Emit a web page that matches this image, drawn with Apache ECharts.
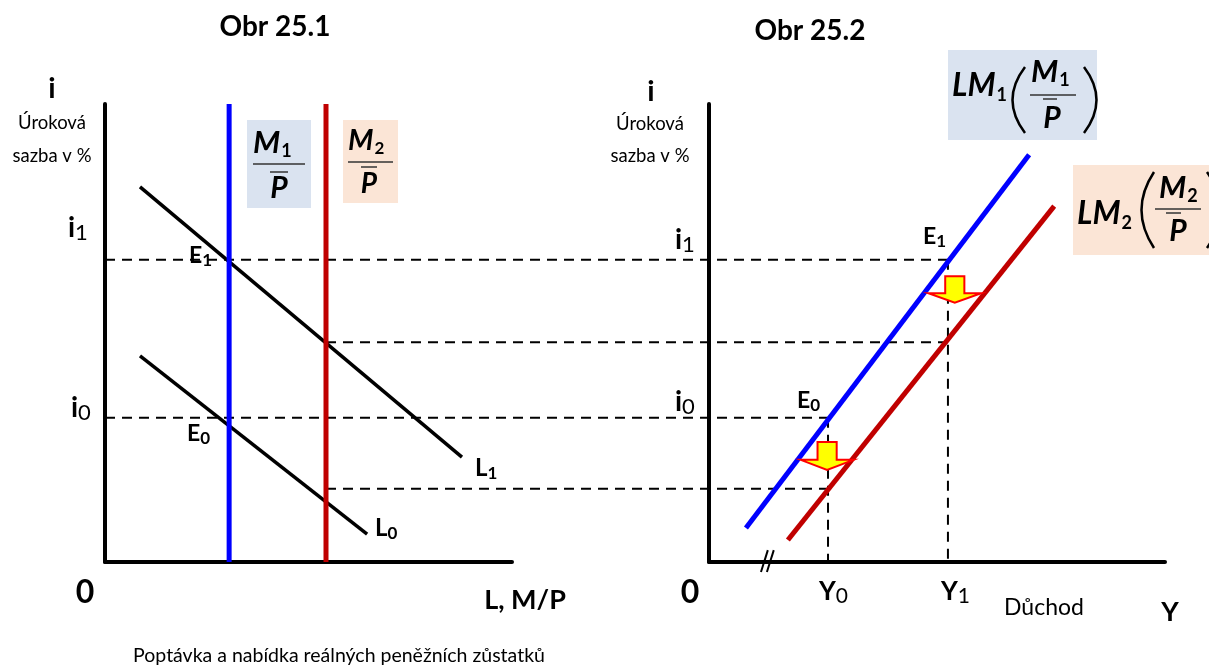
<!DOCTYPE html>
<html>
<head>
<meta charset="utf-8">
<script src="https://cdn.jsdelivr.net/npm/echarts@6/dist/echarts.min.js"></script>
<style>
html, body { margin: 0; padding: 0; background: #fff; }
#chart { width: 1209px; height: 670px; }
</style>
</head>
<body>
<div id="chart"></div>
<script>
// hodnoty, obě osy 0-100
var urokoveHladiny = [66, 48, 31.5, 16] // i1, M2 x L1, i0, M2 x L0
var nabidkaM = [30.5, 54.3] // M1/P, M2/P
var poptavkaL1 = [[8.6, 81.9], [87.7, 22.9]]
var poptavkaL0 = [[8.6, 45], [64.4, 6.1]]
var duchodY = [26.1, 52.4] // Y0, Y1
var krivkaLM1 = [[8.1, 7.4], [70.2, 88.9]]
var krivkaLM2 = [[17.3, 4.8], [75.7, 77.7]]
var sipky = [[53.9, 62.4, 58.7, 56.6], [25.9, 26.2, 22.3, 20.1]] // stred, horni okraj, krk, hrot

// rozvrzeni: levy graf, pravy graf, spolecna vrstva pro spojnice
var GL = { left: 105, top: 104, width: 407, height: 458 }
var GR = { left: 709, top: 104, width: 456, height: 458 }
var GF = { left: 105, top: 104, width: 1060, height: 458 }
var font = 'Lato, "Open Sans", sans-serif'

function zLeva(x) { return (GL.left + x / 100 * GL.width - GF.left) / GF.width * 100 }
function zPrava(x) { return (GR.left + x / 100 * GR.width - GF.left) / GF.width * 100 }

function osa(idx, show) {
    return {
        type: 'value', gridIndex: idx, min: 0, max: 100, show: show,
        axisLine: { show: true, onZero: false, lineStyle: { color: '#000', width: 4 } },
        axisTick: { show: false },
        axisLabel: { show: false },
        splitLine: { show: false }
    }
}

function cara(grid, data, color, width, dash) {
    return {
        type: 'line', xAxisIndex: grid, yAxisIndex: grid,
        data: data, symbol: 'none', clip: false, silent: true,
        lineStyle: { color: color, width: width, type: dash ? [10, 7] : 'solid', cap: 'butt' },
        z: dash ? 1 : 3
    }
}

// text helpery
function txt(x, y, s, size, opts) {
    opts = opts || {}
    return {
        type: 'text', x: x, y: y, silent: true,
        style: {
            text: s, fontSize: size, fontFamily: font,
            fontWeight: opts.bold ? 'bold' : 'normal',
            fontStyle: opts.italic ? 'italic' : 'normal',
            fill: '#000', align: opts.align || 'left', verticalAlign: 'middle'
        }
    }
}
// zaklad + dolni index, y = stred zakladu
function idx(x, y, a, b, size, subSize, drop, opts) {
    opts = opts || {}
    var lh = size + 4
    return {
        type: 'text', x: x, y: y, silent: true,
        style: {
            text: '{a|' + a + '}{b|' + b + '}', fontFamily: font, fill: '#000',
            align: opts.align || 'left', verticalAlign: 'middle',
            rich: {
                a: { fontSize: size, fontFamily: font, fontWeight: 'bold', fontStyle: opts.italic ? 'italic' : 'normal', lineHeight: lh },
                b: { fontSize: subSize, fontFamily: font, fontWeight: opts.subBold ? 'bold' : 'normal', lineHeight: lh - 2 * drop, verticalAlign: 'bottom', padding: [0, 0, 0, opts.gap || 0] }
            }
        }
    }
}
function hl(x1, x2, y, w) {
    return { type: 'line', silent: true, shape: { x1: x1, y1: y, x2: x2, y2: y }, style: { stroke: '#333', lineWidth: w || 1.5 } }
}
function zavorka(x, top, bottom, cpx) {
    return {
        type: 'bezierCurve', silent: true,
        shape: { x1: x, y1: top, x2: x, y2: bottom, cpx1: cpx, cpy1: (top + bottom) / 2 },
        style: { stroke: '#000', lineWidth: 2.5, fill: null }
    }
}
function box(x, y, w, h, fill) {
    return { type: 'rect', silent: true, shape: { x: x, y: y, width: w, height: h }, style: { fill: fill }, z: -1 }
}

var seriesList = []
// prerusovane spojnice (spolecna vrstva)
seriesList.push(cara(2, [[0, urokoveHladiny[0]], [zPrava(duchodY[1]), urokoveHladiny[0]]], '#000', 2, true))
seriesList.push(cara(2, [[zLeva(nabidkaM[1]), urokoveHladiny[1]], [zPrava(duchodY[1]), urokoveHladiny[1]]], '#000', 2, true))
seriesList.push(cara(2, [[0, urokoveHladiny[2]], [zPrava(duchodY[0]), urokoveHladiny[2]]], '#000', 2, true))
seriesList.push(cara(2, [[zLeva(nabidkaM[1]), urokoveHladiny[3]], [zPrava(duchodY[0]), urokoveHladiny[3]]], '#000', 2, true))
seriesList.push(cara(1, [[duchodY[1], urokoveHladiny[0]], [duchodY[1], 0]], '#000', 2, true))
seriesList.push(cara(1, [[duchodY[0], urokoveHladiny[2]], [duchodY[0], 0]], '#000', 2, true))
// levy graf
seriesList.push(cara(0, poptavkaL1, '#000', 3.5))
seriesList.push(cara(0, poptavkaL0, '#000', 3.5))
seriesList.push(cara(0, [[nabidkaM[0], 0], [nabidkaM[0], 100]], '#0000ff', 5))
seriesList.push(cara(0, [[nabidkaM[1], 0], [nabidkaM[1], 100]], '#c00000', 5))
// pravy graf
seriesList.push(cara(1, krivkaLM1, '#0000ff', 5))
seriesList.push(cara(1, krivkaLM2, '#c00000', 5))
// preruseni osy //
seriesList.push(cara(1, [[11.4, -2.2], [12.9, 2.6]], '#000', 2))
seriesList.push(cara(1, [[12.7, -2.2], [14.2, 2.6]], '#000', 2))
// sipky posunu
seriesList.push({
    type: 'custom', xAxisIndex: 1, yAxisIndex: 1, data: sipky, silent: true, z: 5,
    renderItem: function (params, api) {
        var cx = api.value(0), top = api.value(1), neck = api.value(2), tip = api.value(3)
        var pts = [[cx - 2.1, top], [cx + 2.1, top], [cx + 2.1, neck], [cx + 5.8, neck],
            [cx, tip], [cx - 5.8, neck], [cx - 2.1, neck]].map(function (p) { return api.coord(p) })
        return { type: 'polygon', shape: { points: pts }, style: { fill: '#ffff00', stroke: '#ff0000', lineWidth: 2 } }
    }
})

var g = []
// nadpisy
g.push(txt(275, 27, 'Obr 25.1', 28, { bold: true, align: 'center' }))
g.push(txt(810, 31, 'Obr 25.2', 28, { bold: true, align: 'center' }))
// popisy svisle osy
g.push(txt(52, 89, 'i', 29, { bold: true, align: 'center' }))
g.push(txt(52, 123, 'Úroková', 18.5, { align: 'center' }))
g.push(txt(52, 156, 'sazba v %', 18.5, { align: 'center' }))
g.push(txt(651, 92, 'i', 29, { bold: true, align: 'center' }))
g.push(txt(650, 124, 'Úroková', 18.5, { align: 'center' }))
g.push(txt(650, 156, 'sazba v %', 18.5, { align: 'center' }))
// i1, i0
g.push(idx(68, 228, 'i', '1', 28, 22, 2))
g.push(idx(71, 408, 'i', '0', 28, 22, 2))
g.push(idx(675, 240, 'i', '1', 28, 22, 2))
g.push(idx(675, 402, 'i', '0', 28, 22, 2))
// body rovnovahy
g.push(idx(189, 256, 'E', '1', 23, 17, 4, { subBold: true }))
g.push(idx(187, 434, 'E', '0', 23, 17, 4, { subBold: true }))
g.push(idx(923, 237, 'E', '1', 23, 17, 4, { subBold: true }))
g.push(idx(797, 401, 'E', '0', 23, 17, 4, { subBold: true }))
// L1, L0
g.push(idx(475, 468, 'L', '1', 24, 17, 5, { subBold: true }))
g.push(idx(375, 528, 'L', '0', 24, 17, 5, { subBold: true }))
// vodorovne osy
g.push(txt(85, 593, '0', 32, { bold: true, align: 'center' }))
g.push(txt(690, 593, '0', 32, { bold: true, align: 'center' }))
g.push(txt(525, 600, 'L, M/P', 27, { bold: true, align: 'center' }))
g.push(idx(819, 592, 'Y', '0', 26, 21, 3))
g.push(idx(941, 592, 'Y', '1', 26, 21, 3))
g.push(txt(1044, 608, 'Důchod', 23, { align: 'center' }))
g.push(txt(1170, 612, 'Y', 27, { bold: true, align: 'center' }))
g.push(txt(339, 656, 'Poptávka a nabídka reálných peněžních zůstatků', 19.5, { align: 'center' }))

// M1/P
g.push(box(247, 120, 64, 88, '#dae3f0'))
g.push(idx(253, 143, 'M', '1', 31, 18, 6, { italic: true, subBold: true, gap: 1 }))
g.push(hl(253, 305, 164), hl(270, 288, 172))
g.push(txt(279, 188, 'P', 30, { bold: true, italic: true, align: 'center' }))
// M2/P
g.push(box(343, 120, 55, 83, '#fbe5d6'))
g.push(idx(348, 141, 'M', '2', 29, 17, 6, { italic: true, subBold: true, gap: 1 }))
g.push(hl(348, 393, 162), hl(361, 377, 167))
g.push(txt(369, 184, 'P', 28, { bold: true, italic: true, align: 'center' }))
// LM1(M1/P)
g.push(box(948, 50, 149, 90, '#dae3f0'))
g.push(idx(952, 86, 'LM', '1', 32, 18, 8, { italic: true, subBold: true, gap: 1 }))
g.push(zavorka(1025, 67, 133, 1000), zavorka(1084, 67, 133, 1109))
g.push(idx(1031, 72, 'M', '1', 31, 18, 6, { italic: true, subBold: true, gap: 1 }))
g.push(hl(1030, 1076, 95), hl(1043, 1057, 99))
g.push(txt(1052, 118, 'P', 30, { bold: true, italic: true, align: 'center' }))
// LM2(M2/P)
g.push(box(1073, 165, 140, 90, '#fbe5d6'))
g.push(idx(1077, 214, 'LM', '2', 32, 18, 8, { italic: true, subBold: true, gap: 1 }))
g.push(zavorka(1154, 172, 248, 1129), zavorka(1207, 172, 248, 1233))
g.push(idx(1159, 188, 'M', '2', 31, 18, 6, { italic: true, subBold: true, gap: 1 }))
g.push(hl(1155, 1201, 209), hl(1166, 1181, 213))
g.push(txt(1178, 231, 'P', 30, { bold: true, italic: true, align: 'center' }))

var option = {
    backgroundColor: '#fff',
    animation: false,
    grid: [
        { left: GL.left, top: GL.top, width: GL.width, height: GL.height },
        { left: GR.left, top: GR.top, width: GR.width, height: GR.height },
        { left: GF.left, top: GF.top, width: GF.width, height: GF.height }
    ],
    xAxis: [osa(0, true), osa(1, true), osa(2, false)],
    yAxis: [osa(0, true), osa(1, true), osa(2, false)],
    series: seriesList,
    graphic: { elements: g }
}
var chart = echarts.init(document.getElementById('chart'))
chart.setOption(option)
</script>
</body>
</html>
